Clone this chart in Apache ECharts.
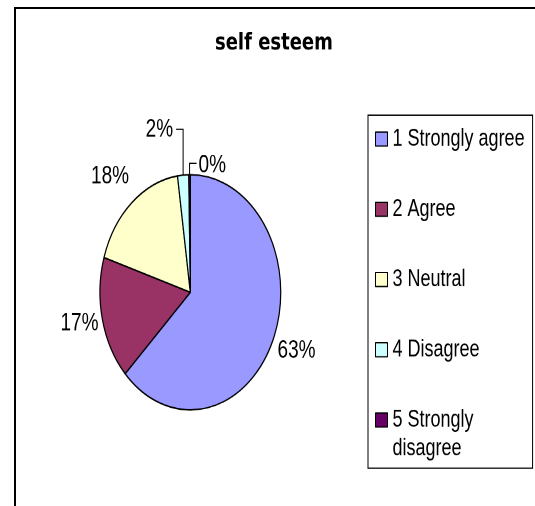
<!DOCTYPE html>
<html>
<head>
<meta charset="utf-8">
<title>self esteem</title>
<script src="https://cdn.jsdelivr.net/npm/echarts@6/dist/echarts.min.js"></script>
<style>
  html, body { margin: 0; padding: 0; background: #fff; overflow: hidden; }
  body { width: 535px; height: 506px; position: relative; }
  /* plot-area frame: only its left and top edges fall inside the page */
  #frame {
    position: absolute; left: 14px; top: 7px; width: 700px; height: 700px;
    border-left: 2px solid #000; border-top: 2px solid #000; box-sizing: border-box;
  }
  /* the chart is laid out 389px tall and stretched vertically, which makes the pie an ellipse */
  #chart {
    position: absolute; left: 0; top: 0; width: 535px; height: 389px;
    transform: scaleY(1.3008); transform-origin: 0 0;
  }
</style>
</head>
<body>
<div id="frame"></div>
<div id="chart"></div>
<script>
// Survey answers for "self esteem" (percent of respondents)
const categories = ['1 Strongly agree', '2 Agree', '3 Neutral', '4 Disagree', '5 Strongly disagree'];
const percents = [63, 17, 18, 2, 0];

// Slice colours, in category order
const palette = ['#9999FF', '#993366', '#FFFFCC', '#CCFFFF', '#660066'];

// Label placement relative to the rim point at each slice's mid angle
const labelNudge = { 0: [23, 9.6], 1: [-22.9, 3.2], 2: [-21.6, -20.3] };
const leaderRise = { 3: 35.2, 4: 8.8 };

const chart = echarts.init(document.getElementById('chart'), null, { renderer: 'canvas', devicePixelRatio: 2 });

const lastIndex = categories.length - 1;
const legendData = categories.map(function (name, i) {
  // the wrapped last entry keeps its symbol beside its first line
  return i === lastIndex ? { name: name, textStyle: { padding: [0, 0, -22, 0] } } : { name: name };
});

const pieData = categories.map(function (name, i) {
  const item = { name: name, value: percents[i] };
  if (!(i in leaderRise)) {
    item.labelLine = { lineStyle: { opacity: 0 } };
  }
  return item;
});

chart.setOption({
  animation: false,
  color: palette,
  title: {
    text: 'self esteem',
    left: 215,
    top: 24.5,
    padding: 0,
    textStyle: { fontFamily: 'DejaVu Sans', fontWeight: 'bold', fontSize: 18, color: '#000' }
  },
  legend: {
    orient: 'vertical',
    left: 368,
    top: 88.5,
    height: 400,
    padding: [7.4, 8, 6, 7],
    itemGap: 32,
    itemWidth: 12,
    itemHeight: 10.8,
    icon: 'rect',
    selectedMode: false,
    borderColor: '#000',
    borderWidth: 1,
    backgroundColor: '#fff',
    itemStyle: { borderColor: '#000', borderWidth: 1 },
    textStyle: {
      fontFamily: 'Liberation Sans', fontSize: 18, lineHeight: 22, color: '#000',
      rich: { t: { fontFamily: 'Liberation Sans', fontSize: 18, lineHeight: 22, color: '#000' } }
    },
    formatter: function (name) {
      if (name === categories[lastIndex]) {
        return '{t|5 Strongly}\n{t|disagree}';
      }
      return name;
    },
    data: legendData
  },
  series: [{
    type: 'pie',
    center: [190.35, 224.7],
    radius: 90.4,
    startAngle: 90,
    clockwise: true,
    minAngle: 1,
    avoidLabelOverlap: false,
    emphasis: { disabled: true },
    itemStyle: { borderColor: '#000', borderWidth: 1.2 },
    label: {
      show: true,
      position: 'outside',
      fontFamily: 'Liberation Sans',
      fontSize: 19,
      color: '#000',
      formatter: function (p) { return Math.round(p.percent) + '%'; }
    },
    labelLine: { show: true, length: 15, length2: 10, smooth: false, lineStyle: { color: '#000', width: 1 } },
    labelLayout: function (p) {
      const pts = p.labelLinePoints;
      if (!pts) return null;
      const rim = pts[0];
      const i = p.dataIndex;
      if (labelNudge[i]) {
        return { x: rim[0] + labelNudge[i][0], y: rim[1] + labelNudge[i][1], align: 'center', verticalAlign: 'middle' };
      }
      const yy = rim[1] - leaderRise[i];
      if (i === 3) {
        return {
          x: rim[0] - 10, y: yy + 0.5, align: 'right', verticalAlign: 'middle',
          labelLinePoints: [[rim[0], rim[1]], [rim[0], yy], [rim[0] - 7, yy]]
        };
      }
      return {
        x: rim[0] + 9, y: yy + 2, align: 'left', verticalAlign: 'middle',
        labelLinePoints: [[rim[0], rim[1]], [rim[0], yy], [rim[0] + 7, yy]]
      };
    },
    data: pieData
  }]
});
</script>
</body>
</html>
